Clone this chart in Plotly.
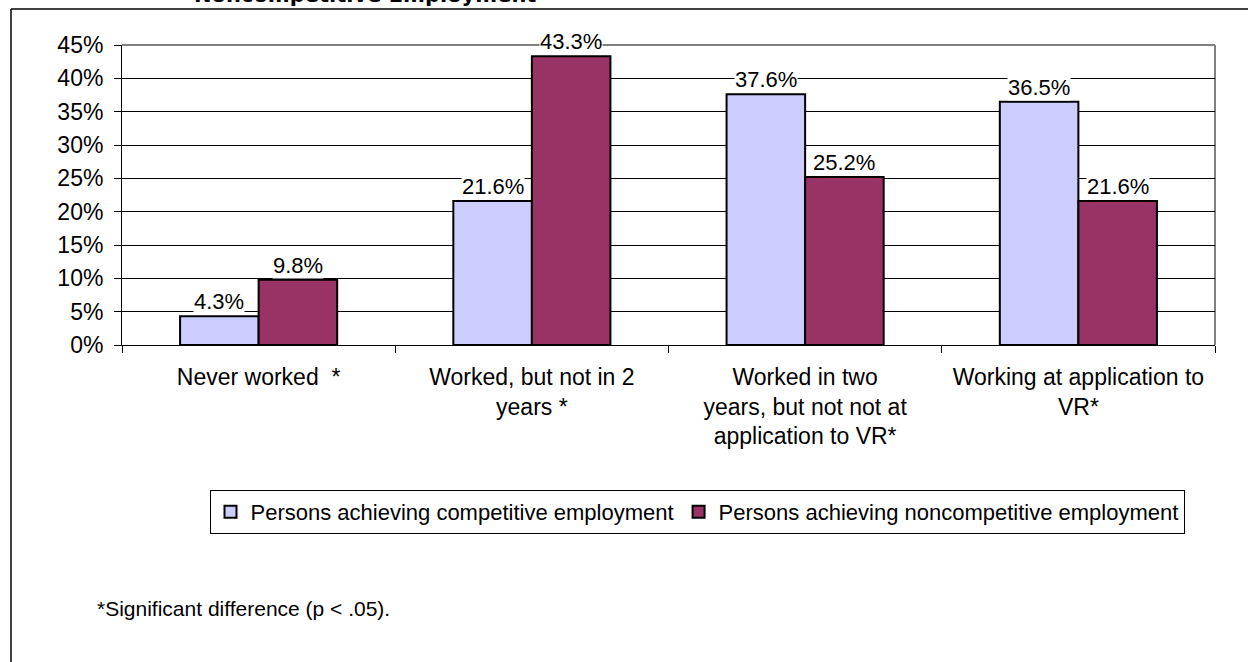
import plotly.graph_objects as go

# Work history categories and the share of each outcome group
categories = [
    "Never worked  *",
    "Worked, but not in 2<br>years *",
    "Worked in two<br>years, but not not at<br>application to VR*",
    "Working at application to<br>VR*",
]
competitive = [4.3, 21.6, 37.6, 36.5]
noncompetitive = [9.8, 43.3, 25.2, 21.6]
series_names = [
    "Persons achieving competitive employment",
    "Persons achieving noncompetitive employment",
]
series_colors = ["#CCCCFF", "#993366"]
y_ticks = [0, 5, 10, 15, 20, 25, 30, 35, 40, 45]
y_tick_labels = [f"{t}%" for t in y_ticks]

W, H = 1248, 662
ML, MR, MT, MB = 122, 33, 45, 317
PW, PH = W - ML - MR, H - MT - MB
BARGAP = 0.425
FONT = "Liberation Sans, Arial, sans-serif"


def px_x(px):
    return (px - ML) / PW


def px_y(py):
    return (H - MB - py) / PH


fig = go.Figure()
for name, vals, color in zip(series_names, [competitive, noncompetitive], series_colors):
    fig.add_trace(go.Bar(
        x=categories, y=vals, name=name,
        marker=dict(color=color, line=dict(color="black", width=2)),
        hoverinfo="x+y",
    ))

# value labels with white backing, sitting on top of each bar
bar_px = PW / len(categories) * (1 - BARGAP) / 2
annotations = []
for i, vals in enumerate([competitive, noncompetitive]):
    for cat, v in zip(categories, vals):
        annotations.append(dict(
            x=cat, y=v, xref="x", yref="y", text=f"{v}%",
            xshift=(i - 0.5) * bar_px, yshift=1,
            yanchor="bottom", xanchor="center", showarrow=False,
            bgcolor="white", borderpad=0,
            font=dict(family=FONT, size=22, color="black"),
        ))

# chart title (runs off the top edge of the page)
annotations.append(dict(
    x=px_x(365), y=px_y(9), xref="paper", yref="paper",
    text="<b>Noncompetitive Employment</b>", showarrow=False,
    xanchor="center", yanchor="bottom",
    font=dict(family="DejaVu Sans, sans-serif", size=21, color="black"),
))

# footnote
annotations.append(dict(
    x=px_x(95), y=px_y(608), xref="paper", yref="paper",
    text="*Significant difference (p < .05).", showarrow=False,
    xanchor="left", yanchor="middle",
    font=dict(family=FONT, size=21, color="black"),
))

shapes = [
    # outer frame (top and left edges)
    dict(type="line", xref="paper", yref="paper", x0=px_x(11), x1=px_x(1260),
         y0=px_y(9), y1=px_y(9), line=dict(color="black", width=1.5)),
    dict(type="line", xref="paper", yref="paper", x0=px_x(11), x1=px_x(11),
         y0=px_y(9), y1=px_y(670), line=dict(color="black", width=1.5)),
    # grey plot-area border on top and right
    dict(type="line", xref="paper", yref="paper", x0=0, x1=1, y0=1, y1=1,
         line=dict(color="#808080", width=2), layer="below"),
    dict(type="line", xref="paper", yref="paper", x0=1, x1=1, y0=0, y1=1,
         line=dict(color="#808080", width=2), layer="below"),
]

fig.update_layout(
    width=W, height=H,
    margin=dict(l=ML, r=MR, t=MT, b=MB),
    paper_bgcolor="white", plot_bgcolor="white",
    barmode="group", bargap=BARGAP, bargroupgap=0,
    font=dict(family=FONT, size=21, color="black"),
    showlegend=True,
    legend=dict(
        orientation="h", x=px_x(697), y=px_y(512),
        xanchor="center", yanchor="middle",
        bordercolor="black", borderwidth=1, bgcolor="white",
        font=dict(family=FONT, size=22, color="black"),
        traceorder="normal", itemwidth=30,
    ),
    annotations=annotations,
    shapes=shapes,
)

fig.update_xaxes(
    type="category", showline=True, linecolor="black", linewidth=1,
    ticks="outside", tickson="boundaries", ticklen=7, tickcolor="black",
    ticklabelstandoff=11,
    showgrid=False, tickfont=dict(family=FONT, size=23, color="black"),
)
fig.update_yaxes(
    range=[0, 45], tickvals=y_ticks, ticktext=y_tick_labels,
    showline=True, linecolor="black", linewidth=1,
    ticks="outside", ticklen=7, tickcolor="black",
    ticklabelstandoff=6,
    showgrid=True, gridcolor="black", gridwidth=1, zeroline=False,
    tickfont=dict(family=FONT, size=23, color="black"),
)

fig.write_html("out.html")
